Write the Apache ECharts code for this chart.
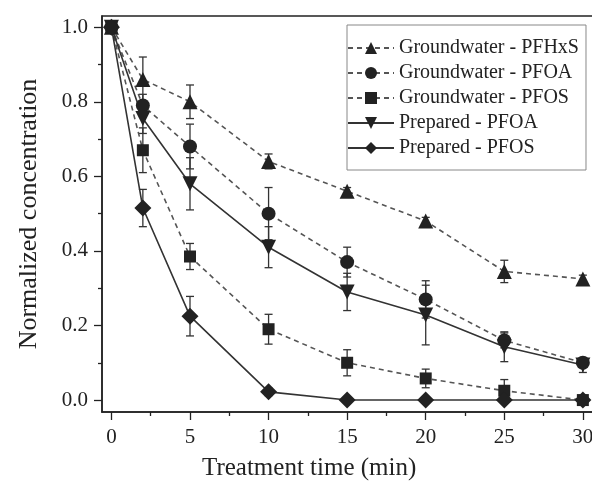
<!DOCTYPE html>
<html>
<head>
<meta charset="utf-8">
<script src="https://cdn.jsdelivr.net/npm/echarts@6/dist/echarts.min.js"></script>
<style>
  html, body { margin: 0; padding: 0; background: #fff; }
  #chart { width: 592px; height: 482px; }
</style>
</head>
<body>
<div id="chart"></div>
<script>
const times = [0, 2, 5, 10, 15, 20, 25, 30];

const gwPfhxs = [1.0, 0.86, 0.80, 0.64, 0.56, 0.48, 0.345, 0.325];
const gwPfhxsErr = [0, 0.06, 0.045, 0.02, 0.01, 0.01, 0.03, 0.01];
const gwPfoa = [1.0, 0.79, 0.68, 0.50, 0.37, 0.27, 0.16, 0.10];
const gwPfoaErr = [0, 0.03, 0.06, 0.07, 0.04, 0.05, 0.02, 0.01];
const gwPfos = [1.0, 0.67, 0.385, 0.19, 0.10, 0.058, 0.025, 0.0];
const gwPfosErr = [0, 0.06, 0.035, 0.04, 0.035, 0.025, 0.03, 0.01];
const prepPfoa = [1.0, 0.755, 0.58, 0.41, 0.29, 0.228, 0.143, 0.094];
const prepPfoaErr = [0, 0.04, 0.07, 0.055, 0.05, 0.08, 0.04, 0.02];
const prepPfos = [1.0, 0.515, 0.225, 0.022, 0.0, 0.0, 0.0, 0.0];
const prepPfosErr = [0, 0.05, 0.053, 0.01, 0, 0, 0, 0];

const xTicks = [0, 5, 10, 15, 20, 25, 30];
const xMinorTicks = [2.5, 7.5, 12.5, 17.5, 22.5, 27.5];
const yTicks = [0, 0.2, 0.4, 0.6, 0.8, 1.0];
const yMinorTicks = [0.1, 0.3, 0.5, 0.7, 0.9];

const INK = '#222';
const FONT = '"Liberation Serif", "DejaVu Serif", serif';

const curves = [
  { name: 'Groundwater - PFHxS', values: gwPfhxs, err: gwPfhxsErr, symbol: 'triangle', rotate: 0, size: 15, dashed: true },
  { name: 'Groundwater - PFOA', values: gwPfoa, err: gwPfoaErr, symbol: 'circle', rotate: 0, size: 14, dashed: true },
  { name: 'Groundwater - PFOS', values: gwPfos, err: gwPfosErr, symbol: 'rect', rotate: 0, size: 12, dashed: true },
  { name: 'Prepared - PFOA', values: prepPfoa, err: prepPfoaErr, symbol: 'triangle', rotate: 180, size: 15, dashed: false },
  { name: 'Prepared - PFOS', values: prepPfos, err: prepPfosErr, symbol: 'diamond', rotate: 0, size: 17, dashed: false },
];

// error bars drawn through the axis scales
function renderErr(params, api) {
  const x = api.value(0), v = api.value(1), e = api.value(2);
  if (!e) return;
  const top = api.coord([x, v + e]);
  const bot = api.coord([x, v - e]);
  const c = 4;
  const style = { stroke: '#333', lineWidth: 1.3 };
  return {
    type: 'group',
    children: [
      { type: 'line', shape: { x1: top[0], y1: top[1], x2: bot[0], y2: bot[1] }, style },
      { type: 'line', shape: { x1: top[0] - c, y1: top[1], x2: top[0] + c, y2: top[1] }, style },
      { type: 'line', shape: { x1: bot[0] - c, y1: bot[1], x2: bot[0] + c, y2: bot[1] }, style },
    ],
  };
}

const series = [];
curves.forEach(c => {
  series.push({
    type: 'custom',
    name: c.name + ' err',
    renderItem: renderErr,
    encode: { x: 0, y: 1 },
    data: times.map((t, i) => [t, c.values[i], c.err[i]]),
    z: 1,
    silent: true,
  });
});
curves.forEach(c => {
  series.push({
    type: 'line',
    name: c.name,
    data: times.map((t, i) => [t, c.values[i]]),
    symbol: c.symbol,
    symbolRotate: c.rotate,
    symbolSize: c.size,
    lineStyle: { color: c.dashed ? '#555' : '#333', width: 1.6, type: c.dashed ? [5, 4] : 'solid' },
    itemStyle: { color: INK },
    z: 3,
  });
});

const chart = echarts.init(document.getElementById('chart'), null, { renderer: 'canvas' });
chart.setOption({
  backgroundColor: '#fff',
  animation: false,
  title: {
    text: 'Treatment time (min)',
    left: 202, top: 456,
    padding: 0,
    textStyle: { fontFamily: FONT, fontSize: 25, fontWeight: 'normal', color: INK },
  },
  grid: {
    left: 102, top: 16, width: 495, height: 396,
    outerBoundsMode: 'none', containLabel: false,
    show: true, borderColor: INK, borderWidth: 1.5, backgroundColor: 'transparent',
  },
  legend: {
    orient: 'vertical',
    left: 347, top: 25,
    data: curves.map(c => c.name),
    itemWidth: 46, itemHeight: 15, itemGap: 5,
    padding: [13, 7, 12, 0],
    borderColor: '#888', borderWidth: 1,
    backgroundColor: '#fff',
    textStyle: { fontFamily: FONT, fontSize: 20, color: INK },
  },
  xAxis: [
    {
      type: 'value', min: -0.6, max: 30.9,
      axisLine: { show: true, onZero: false, lineStyle: { color: INK, width: 1.5 } },
      axisTick: { show: true, customValues: xTicks, length: 8, lineStyle: { color: INK, width: 1.3 } },
      axisLabel: { customValues: xTicks, fontFamily: FONT, fontSize: 21, color: INK, margin: 15 },
      splitLine: { show: false },
    },
    {
      type: 'value', min: -0.6, max: 30.9, position: 'bottom',
      axisLine: { show: false, onZero: false },
      axisTick: { show: true, customValues: xMinorTicks, length: 4, lineStyle: { color: INK, width: 1.3 } },
      axisLabel: { show: false },
      splitLine: { show: false },
    },
  ],
  yAxis: [
    {
      type: 'value', min: -0.032, max: 1.03,
      name: 'Normalized concentration', nameLocation: 'middle', nameGap: 60,
      nameTextStyle: { fontFamily: FONT, fontSize: 26, color: INK },
      axisLine: { show: true, onZero: false, lineStyle: { color: INK, width: 1.5 } },
      axisTick: { show: true, customValues: yTicks, length: 8, lineStyle: { color: INK, width: 1.3 } },
      axisLabel: { customValues: yTicks, fontFamily: FONT, fontSize: 21, color: INK, margin: 14, formatter: v => v.toFixed(1) },
      splitLine: { show: false },
    },
    {
      type: 'value', min: -0.032, max: 1.03, position: 'left',
      axisLine: { show: false, onZero: false },
      axisTick: { show: true, customValues: yMinorTicks, length: 4, lineStyle: { color: INK, width: 1.3 } },
      axisLabel: { show: false },
      splitLine: { show: false },
    },
  ],
  series,
});
</script>
</body>
</html>
